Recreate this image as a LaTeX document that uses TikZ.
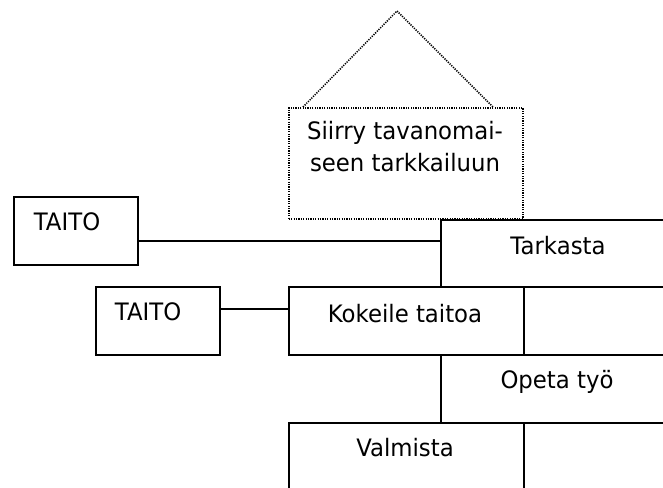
\documentclass[tikz,border=0pt]{standalone}
\usepackage{fontspec}
\setmainfont{DejaVu Sans}[FakeStretch=0.95]
\usetikzlibrary{positioning}

\tikzset{
  cell/.style 2 args={draw,line width=1.5pt,anchor=north west,
    minimum width=#1,minimum height=#2,inner sep=0pt},
  roof/.style={line width=1.5pt,dash pattern=on 1.2pt off 1.2pt},
  txt/.style={inner sep=0pt,font=\fontsize{24}{32}\selectfont,align=center},
  link/.style={line width=1.5pt}
}

\begin{document}
\begin{tikzpicture}[x=1pt,y=-1pt]
\useasboundingbox (0,0) rectangle (663,487);
\clip (0,0) rectangle (663,487);

% boxes
\node[cell={124}{68}] (taito1) at (13,196) {};
\node[cell={124}{68}] (taito2) at (95,286) {};
\node[cell={234}{111},roof] (siirry) at (288,107) {};
\node[cell={236}{67}] (tarkasta) at (440,219) {};
\node[cell={235}{68}] (kokeile) at (288,286) {};
\node[cell={200}{68}] (kokeile2) at (523,286) {};
\node[cell={236}{68}] (opeta) at (440,354) {};
\node[cell={235}{90}] (valmista) at (288,422) {};
\node[cell={200}{90}] (valmista2) at (523,422) {};

% roof over the dotted box
\draw[roof] (303,107) -- (397,11) -- (493,107);

% texts
\node[txt] (taito1-t) at (67,222) {TAITO};
\node[txt] (taito2-t) at (148,312) {TAITO};
\node[txt] (siirry-t) at (405,147) {Siirry tavanomai-\\seen tarkkailuun};
\node[txt] (tarkasta-t) at (558,246) {Tarkasta};
\node[txt] (kokeile-t) at (405,314) {Kokeile taitoa};
\node[txt] (opeta-t) at (557,382) {Opeta työ};
\node[txt] (valmista-t) at (405,448) {Valmista};

% connectors
\coordinate (row1) at (0,241);
\coordinate (row2) at (0,309);
\draw[link] (taito1.east |- row1) -- (tarkasta.west |- row1);
\draw[link] (taito2.east |- row2) -- (kokeile.west |- row2);
\end{tikzpicture}
\end{document}
